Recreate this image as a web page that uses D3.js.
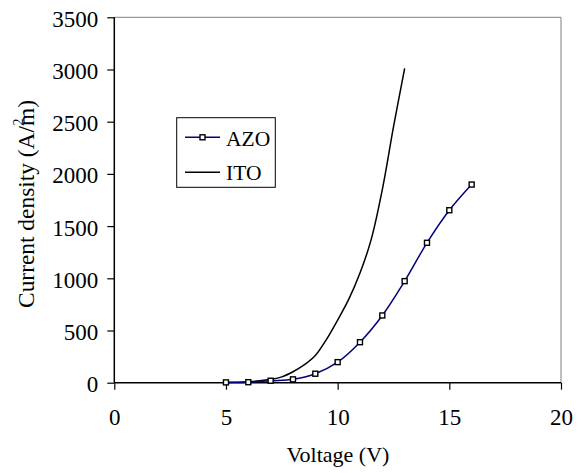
<!DOCTYPE html>
<html>
<head>
<meta charset="utf-8">
<script src="https://cdn.jsdelivr.net/npm/d3@7"></script>
<style>
  html, body { margin: 0; padding: 0; background: #fff; }
  svg { display: block; font-family: "Liberation Serif", "Times New Roman", serif; }
</style>
</head>
<body>
<svg id="chart" width="581" height="473"></svg>
<script>
// AZO device: measured current density at each bias voltage
const azoVoltage = [5, 6, 7, 8, 9, 10, 11, 12, 13, 14, 15, 16];
const azoCurrent = [3, 5, 19, 32, 86, 197, 388, 644, 973, 1340, 1652, 1898];

// ITO device: current density sampled every 0.5 V
const itoVoltage = [5, 5.5, 6, 6.5, 7, 7.5, 8, 8.5, 9, 9.5, 10, 10.5, 11, 11.5, 12, 12.5, 13];
const itoCurrent = [2, 5, 10, 18, 32, 56, 105, 170, 260, 415, 600, 800, 1050, 1370, 1850, 2450, 3010];

const xTicks = [0, 5, 10, 15, 20];
const yTicks = [0, 500, 1000, 1500, 2000, 2500, 3000, 3500];
const seriesNames = ["AZO", "ITO"];

const svg = d3.select("#chart");
const plot = { left: 114.3, right: 561, top: 17.3, bottom: 382.7 };

const x = d3.scaleLinear().domain([0, 20]).range([plot.left, plot.right]);
const y = d3.scaleLinear().domain([0, 3500]).range([plot.bottom, plot.top]);

// plot area border (grey top and right edges)
svg.append("path")
  .attr("d", `M${plot.left},${plot.top}H${plot.right}V${plot.bottom}`)
  .attr("fill", "none")
  .attr("stroke", "#808080")
  .attr("stroke-width", 1);

// axes
const xAxis = d3.axisBottom(x).tickValues(xTicks).tickSize(7).tickFormat(d3.format("d"));
const yAxis = d3.axisLeft(y).tickValues(yTicks).tickSize(7).tickFormat(d3.format("d"));

const gx = svg.append("g").attr("transform", `translate(0,${plot.bottom})`).call(xAxis);
const gy = svg.append("g").attr("transform", `translate(${plot.left},0)`).call(yAxis);

[gx, gy].forEach(g => {
  g.select(".domain").attr("stroke", "#000").attr("stroke-width", 1.5);
  g.selectAll(".tick line").attr("stroke", "#000").attr("stroke-width", 1.2);
  g.selectAll(".tick text")
    .attr("fill", "#000")
    .attr("font-family", "Liberation Serif, Times New Roman, serif")
    .attr("font-size", 23);
});
gx.select(".domain").attr("d", `M${plot.left},0H${plot.right}`);
gy.select(".domain").attr("d", `M0,${plot.bottom}V${plot.top}`);
gx.selectAll(".tick text").attr("y", 42.3).attr("dy", 0);
gy.selectAll(".tick text").attr("x", -16).attr("dy", 9);

// axis titles
svg.append("text")
  .attr("x", 338)
  .attr("y", 461.7)
  .attr("text-anchor", "middle")
  .attr("font-size", 22)
  .text("Voltage (V)");

svg.append("text")
  .attr("transform", "translate(34,204) rotate(-90)")
  .attr("text-anchor", "middle")
  .attr("font-size", 23.4)
  .text("Current density (A/m)");

// superscript 2 of the unit, drawn above the m
svg.append("text")
  .attr("transform", "translate(23,125.5) rotate(-90)")
  .attr("font-size", 14)
  .text("2");

// series
const line = d3.line().x(d => x(d[0])).y(d => y(d[1])).curve(d3.curveCatmullRom);

const itoData = itoVoltage.map((v, i) => [v, itoCurrent[i]]);
const azoData = azoVoltage.map((v, i) => [v, azoCurrent[i]]);

svg.append("path")
  .datum(itoData)
  .attr("d", line)
  .attr("fill", "none")
  .attr("stroke", "#000")
  .attr("stroke-width", 1.5);

svg.append("path")
  .datum(azoData)
  .attr("d", line)
  .attr("fill", "none")
  .attr("stroke", "#000080")
  .attr("stroke-width", 1.5);

const mk = 5;
svg.append("g").selectAll("rect")
  .data(azoData)
  .join("rect")
  .attr("x", d => x(d[0]) - mk / 2)
  .attr("y", d => y(d[1]) - mk / 2)
  .attr("width", mk)
  .attr("height", mk)
  .attr("fill", "#fff")
  .attr("stroke", "#000")
  .attr("stroke-width", 1.4);

// legend
const legend = svg.append("g");
legend.append("rect")
  .attr("x", 176.7).attr("y", 117.7)
  .attr("width", 98.6).attr("height", 69.6)
  .attr("fill", "#fff")
  .attr("stroke", "#000")
  .attr("stroke-width", 1);

const legendRows = [
  { name: seriesNames[0], color: "#000080", marker: true, yLine: 137.3, yText: 145.7 },
  { name: seriesNames[1], color: "#000", marker: false, yLine: 172.3, yText: 180 }
];
legendRows.forEach(r => {
  legend.append("line")
    .attr("x1", 185).attr("x2", 220)
    .attr("y1", r.yLine).attr("y2", r.yLine)
    .attr("stroke", r.color).attr("stroke-width", 1.5);
  if (r.marker) {
    legend.append("rect")
      .attr("x", 202.5 - mk / 2).attr("y", r.yLine - mk / 2)
      .attr("width", mk).attr("height", mk)
      .attr("fill", "#fff").attr("stroke", "#000").attr("stroke-width", 1.4);
  }
  legend.append("text")
    .attr("x", 226).attr("y", r.yText)
    .attr("font-size", 21.5)
    .text(r.name);
});
</script>
</body>
</html>
